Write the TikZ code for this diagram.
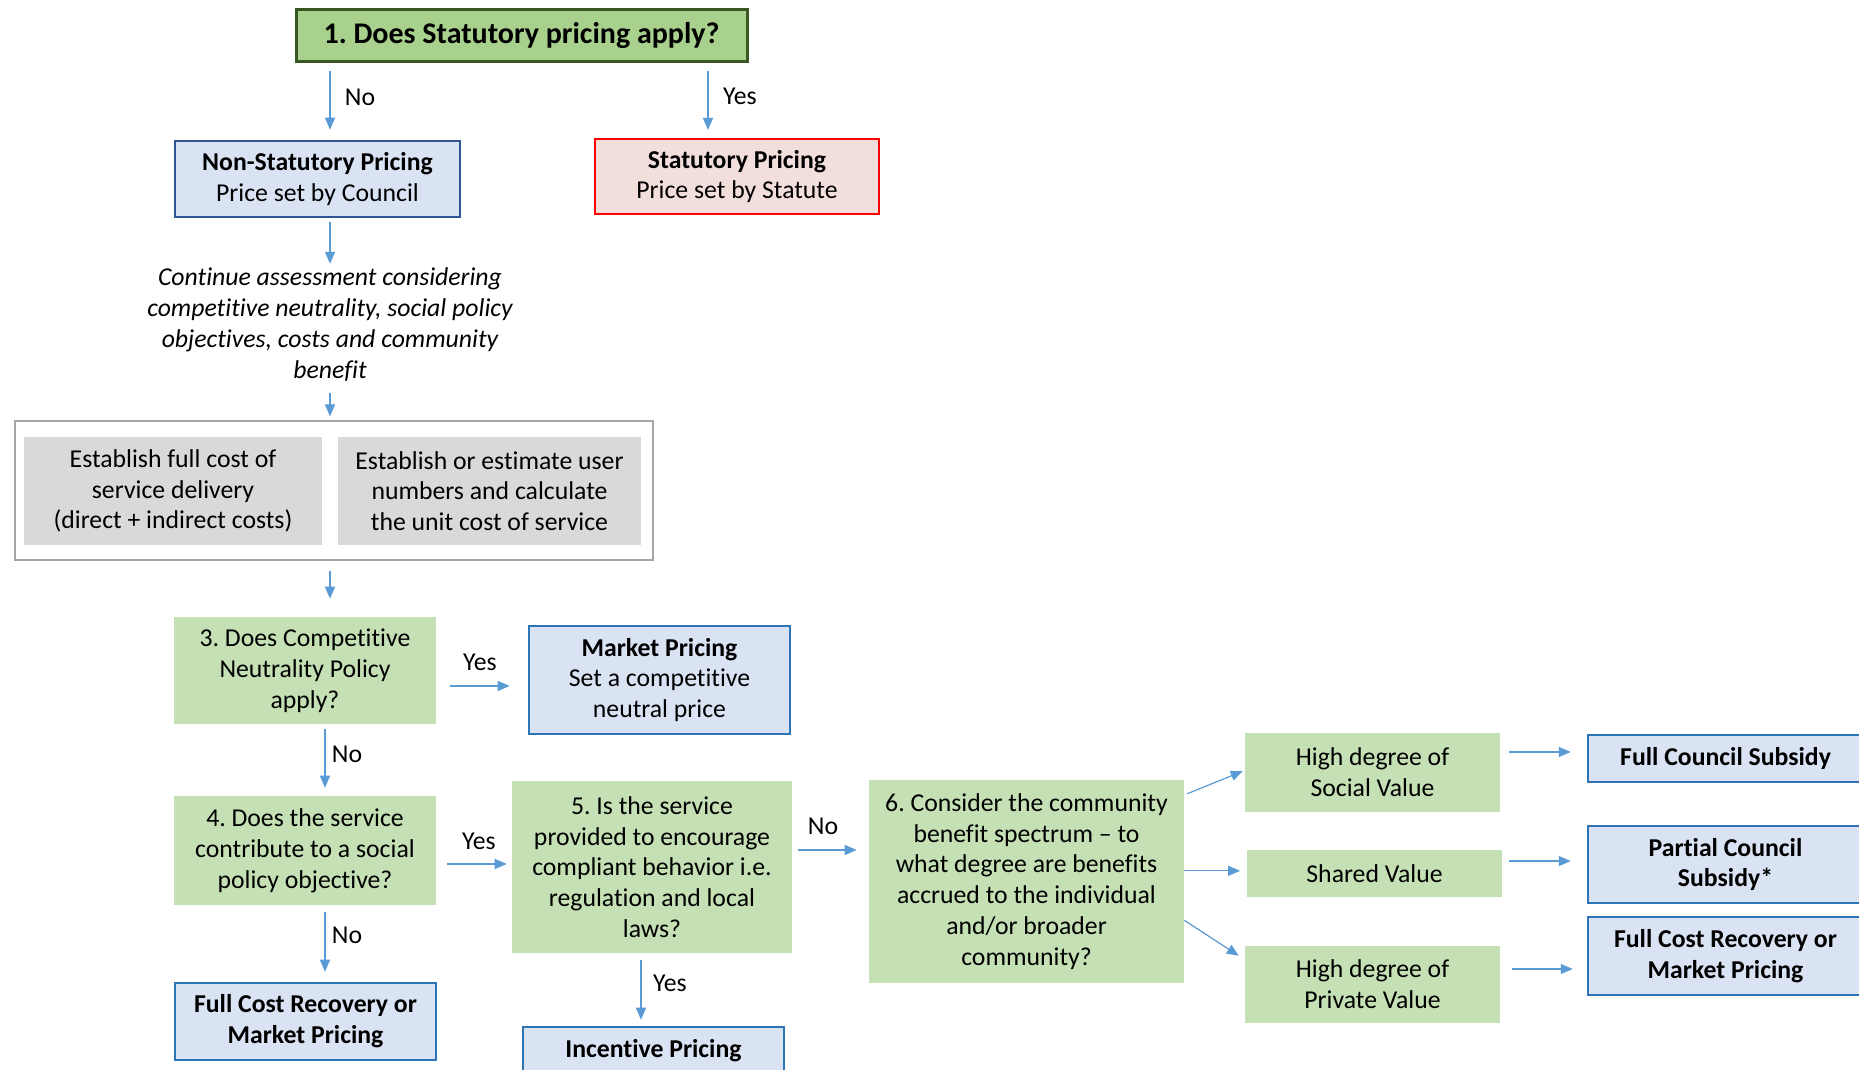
\documentclass[tikz,border=0pt]{standalone}
\usepackage{fontspec}
\setmainfont{Carlito}[RawFeature={-liga}]
\usetikzlibrary{arrows.meta,calc}
\definecolor{titlefill}{HTML}{A9D18E}
\definecolor{titledraw}{HTML}{385723}
\definecolor{qfill}{HTML}{C5E0B4}
\definecolor{bfill}{HTML}{DAE3F3}
\definecolor{bdraw}{HTML}{2E75B6}
\definecolor{bdark}{HTML}{2F5597}
\definecolor{sfill}{HTML}{F2DFDB}
\definecolor{gfill}{HTML}{D9D9D9}
\definecolor{gdraw}{HTML}{A6A6A6}
\definecolor{arrowc}{HTML}{5B9BD5}
\newcommand\bx[7]{\node[#6, minimum width={(#4-#2)*0.75pt}, minimum height={(#5-#3)*0.75pt}] (#1) at ({(#2+#4)/2},{(#3+#5)/2}) {#7};}
\frenchspacing
\begin{document}
\begin{tikzpicture}[x=0.75pt,y=-0.75pt,
  every node/.style={inner sep=0pt, align=center, font=\fontsize{19.3}{23.1}\selectfont\frenchspacing},
  titlebox/.style={fill=titlefill, draw=titledraw, line width=2.25pt, font=\fontsize{22.5}{27}\selectfont\bfseries\frenchspacing},
  qbox/.style={fill=qfill},
  resbox/.style={fill=bfill, draw=bdraw, line width=1.9pt},
  resdark/.style={resbox, draw=bdark},
  statbox/.style={fill=sfill, draw=red, line width=1.5pt},
  greybox/.style={fill=gfill},
  outerbox/.style={draw=gdraw, line width=1.9pt},
  itatext/.style={font=\fontsize{19.3}{23.25}\selectfont\itshape},
  arr/.style={draw=arrowc, line width=0.9pt, -{Triangle[length=9pt,width=7.5pt]}}
]
\clip (0,0) rectangle (1859,1070);
\fill[white] (0,0) rectangle (1859,1070);

\bx{box1}{296}{10}{747}{62}{titlebox}{1. Does Statutory pricing apply?}
\bx{nonstat}{175}{141}{460}{217}{resdark}{\textbf{Non-Statutory Pricing}\\Price set by Council}
\bx{stat}{595}{139}{879}{214}{statbox}{\textbf{Statutory Pricing}\\Price set by Statute}
\node[itatext] (ita) at (330,325) {Continue assessment considering\\competitive neutrality, social policy\\objectives, costs and community\\benefit};
\bx{outer}{15}{421}{653}{560}{outerbox}{}
\bx{g1}{24}{437}{322}{545}{greybox}{Establish full cost of\\service delivery\\(direct + indirect costs)}
\bx{g2}{338}{437}{641}{545}{greybox}{Establish or estimate user\\numbers and calculate\\the unit cost of service}
\bx{box3}{174}{617}{436}{724}{qbox}{3. Does Competitive\\Neutrality Policy\\apply?}
\bx{market}{529}{626}{790}{734}{resbox}{\textbf{Market Pricing}\\Set a competitive\\neutral price}
\bx{box4}{174}{796}{436}{905}{qbox}{4. Does the service\\contribute to a social\\policy objective?}
\bx{box5}{512}{781}{792}{953}{qbox}{5. Is the service\\provided to encourage\\compliant behavior i.e.\\regulation and local\\laws?}
\bx{box6}{869}{780}{1184}{983}{qbox}{6. Consider the community\\benefit spectrum -- to\\what degree are benefits\\accrued to the individual\\and/or broader\\community?}
\bx{fcr1}{175}{983}{436}{1060}{resbox}{\textbf{Full Cost Recovery or}\\\textbf{Market Pricing}}
\bx{inc}{523}{1027}{784}{1074}{resbox}{\textbf{Incentive Pricing}}
\bx{social}{1245}{733}{1500}{812}{qbox}{High degree of\\Social Value}
\bx{shared}{1247}{850}{1502}{897}{qbox}{Shared Value}
\bx{private}{1245}{946}{1500}{1023}{qbox}{High degree of\\Private Value}
\bx{fcs}{1588}{735}{1863}{782}{resbox}{\textbf{Full Council Subsidy}}
\bx{partial}{1588}{826}{1863}{903}{resbox}{\textbf{Partial Council}\\\textbf{Subsidy*}}
\bx{fcr2}{1588}{917}{1863}{995}{resbox}{\textbf{Full Cost Recovery or}\\\textbf{Market Pricing}}

\coordinate (sx) at (330,0);
\coordinate (sy) at (708,0);
\coordinate (sx2) at (325,0);
\draw[arr, shorten <=6pt, shorten >=7.5pt] (box1.south -| sx) -- (nonstat.north -| sx);
\draw[arr, shorten <=6pt, shorten >=6pt] (box1.south -| sy) -- (stat.north -| sy);
\draw[arr, shorten <=3pt, shorten >=3pt] (nonstat.south -| sx) -- (ita.north -| sx);
\draw[arr, shorten <=8pt, shorten >=2.5pt] (ita.south -| sx) -- (outer.north -| sx);
\draw[arr, shorten <=7.5pt, shorten >=13.5pt] (outer.south -| sx) -- (box3.north -| sx);
\draw[arr, shorten <=10.5pt, shorten >=13.5pt] ([yshift=-11.6pt]box3.east) -- ([yshift=-11.6pt]box3.east -| market.west);
\draw[arr, shorten <=3.75pt, shorten >=6pt] (box3.south -| sx2) -- (box4.north -| sx2);
\draw[arr, shorten <=8.25pt, shorten >=3.75pt] ([yshift=-10.1pt]box4.east) -- ([yshift=-10.1pt]box4.east -| box5.west);
\draw[arr, shorten <=4.5pt, shorten >=9pt] ([yshift=12.75pt]box5.east) -- ([yshift=12.75pt]box5.east -| box6.west);
\draw[arr, shorten <=5.25pt, shorten >=7.5pt] (box4.south -| sx2) -- (fcr1.north -| sx2);
\draw[arr, shorten <=5.25pt, shorten >=4.5pt] ([xshift=-8.25pt]box5.south) -- ([xshift=-8.25pt]box5.south |- inc.north);
\draw[arr] ([xshift=2.25pt,yshift=-10.5pt]box6.north east) -- ([xshift=-1.5pt,yshift=1pt]social.west);
\draw[arr, shorten >=5pt] ([yshift=2pt]shared.west -| box6.east) -- ([yshift=2pt]shared.west);
\draw[arr] ([yshift=47.25pt]box6.south east) -- ([xshift=-4.5pt,yshift=-7.5pt]private.north west);
\draw[arr, shorten <=6.75pt, shorten >=12pt] ([yshift=4.9pt]fcs.west -| social.east) -- ([yshift=4.9pt]fcs.west);
\draw[arr, shorten <=5.25pt, shorten >=12pt] ([yshift=2.6pt]partial.west -| shared.east) -- ([yshift=2.6pt]partial.west);
\draw[arr, shorten <=9pt, shorten >=10.5pt] ([yshift=-9.75pt]fcr2.west -| private.east) -- ([yshift=-9.75pt]fcr2.west);

\node (lNo1) at (360,97) {No};
\node (lYes1) at (740,96) {Yes};
\node (lYes3) at (480,662) {Yes};
\node (lNo3) at (347,754) {No};
\node (lYes4) at (479,841) {Yes};
\node (lNo5) at (823,826) {No};
\node (lNo4) at (347,935) {No};
\node (lYes5) at (670,983) {Yes};
\end{tikzpicture}
\end{document}
